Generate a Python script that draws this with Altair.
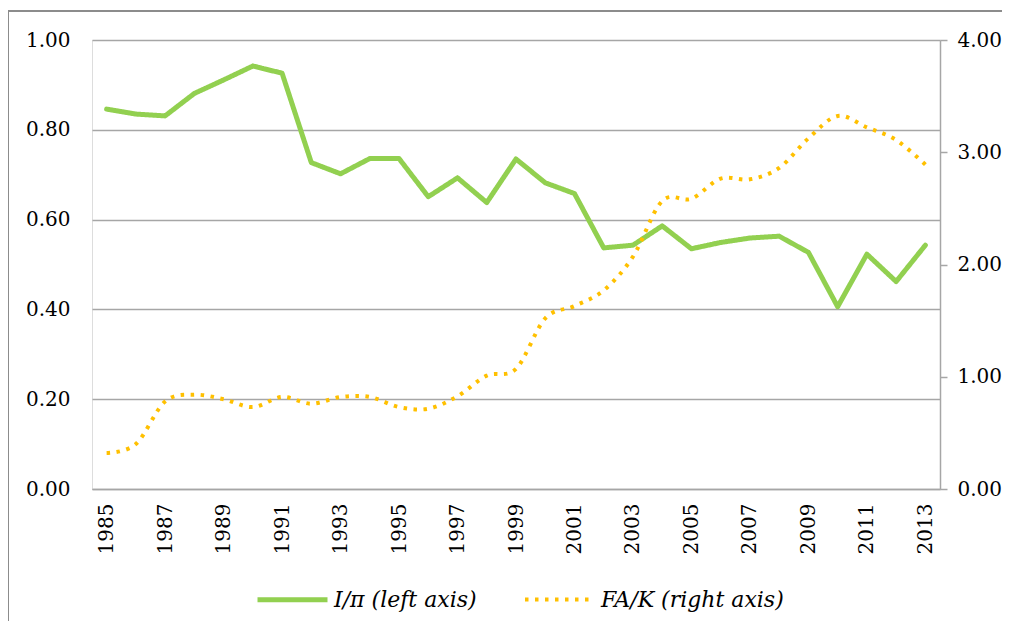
import altair as alt
import pandas as pd

years = list(range(1985, 2014))
i_pi = [0.846, 0.835, 0.831, 0.881, 0.911, 0.942, 0.926, 0.727, 0.702, 0.736,
        0.736, 0.651, 0.693, 0.638, 0.735, 0.682, 0.658, 0.537, 0.543, 0.586,
        0.535, 0.549, 0.559, 0.563, 0.527, 0.406, 0.523, 0.462, 0.543]
fa_k = [0.32, 0.40, 0.78, 0.84, 0.80, 0.73, 0.82, 0.76, 0.82, 0.82,
        0.73, 0.715, 0.826, 1.01, 1.07, 1.52, 1.63, 1.77, 2.07, 2.566,
        2.586, 2.765, 2.759, 2.86, 3.124, 3.323, 3.222, 3.109, 2.89]
series_names = ["I/π (left axis)", "FA/K (right axis)"]
odd_years = [y for y in years if y % 2 == 1]

df = pd.DataFrame({
    "year": years * 2,
    "value": i_pi + fa_k,
    "series": [series_names[0]] * len(years) + [series_names[1]] * len(years),
})

FONT = "DejaVu Serif"
GRID = "#a6a6a6"


def legend():
    return alt.Legend(title=None, orient="none", legendX=163, legendY=522,
                      direction="horizontal", symbolType="stroke",
                      symbolSize=4900, labelFont=FONT, labelFontStyle="italic",
                      labelFontSize=22, labelColor="black", labelOffset=4,
                      columnPadding=40, labelLimit=400)


x_enc = alt.X("year:O", scale=alt.Scale(type="point", padding=0.5),
              axis=alt.Axis(values=odd_years, labelAngle=270, ticks=False, grid=False,
                            domainColor=GRID, domainWidth=1.5, labelPadding=14,
                            labelFont=FONT, labelFontSize=20, labelColor="black",
                            title=None))

color_enc = alt.Color("series:N", scale=alt.Scale(domain=series_names, range=["#92D050", "#FFC000"]),
                      legend=legend())
dash_enc = alt.StrokeDash("series:N", scale=alt.Scale(domain=series_names, range=[[1, 0], [3.5, 6.5]]),
                          legend=legend())
width_enc = alt.StrokeWidth("series:N", scale=alt.Scale(domain=series_names, range=[5, 4]),
                            legend=legend())

base = alt.Chart(df)

left = base.transform_filter(alt.datum.series == series_names[0]).mark_line(
    interpolate="linear", strokeCap="round", strokeJoin="round"
).encode(
    x=x_enc,
    y=alt.Y("value:Q", scale=alt.Scale(domain=[0, 1], nice=False),
            axis=alt.Axis(values=[0, 0.2, 0.4, 0.6, 0.8, 1.0], format=".2f", orient="left",
                          domain=False, ticks=False, grid=True, gridColor=GRID, gridWidth=1.5,
                          labelPadding=22, labelFont=FONT, labelFontSize=20, labelColor="black",
                          title=None)),
    color=color_enc, strokeDash=dash_enc, strokeWidth=width_enc,
)

right = base.transform_filter(alt.datum.series == series_names[1]).mark_line(
    interpolate="cardinal"
).encode(
    x=x_enc,
    y=alt.Y("value:Q", scale=alt.Scale(domain=[0, 4], nice=False),
            axis=alt.Axis(values=[0, 1, 2, 3, 4], format=".2f", orient="right",
                          domain=True, domainColor=GRID, domainWidth=1.5, ticks=True, tickSize=7,
                          tickColor=GRID, tickWidth=1.5, grid=False,
                          labelPadding=10, labelFont=FONT, labelFontSize=20, labelColor="black",
                          title=None)),
    color=color_enc, strokeDash=dash_enc, strokeWidth=width_enc,
)

frame = alt.Chart(alt.Data(values=[{"a": 1}])).mark_rect(
    filled=False, stroke="#8c8c8c", strokeWidth=2
).encode(
    x=alt.value(-84), x2=alt.value(935), y=alt.value(-29), y2=alt.value(600)
)

chart = alt.layer(frame, left, right).resolve_scale(y="independent").properties(
    width=848, height=449,
    autosize=alt.AutoSizeParams(type="none"),
    padding={"left": 84, "top": 32, "right": 62, "bottom": 132},
).configure_view(stroke=None).configure(background="white")

chart.save("out.html", embed_options={"renderer": "svg", "actions": False})
